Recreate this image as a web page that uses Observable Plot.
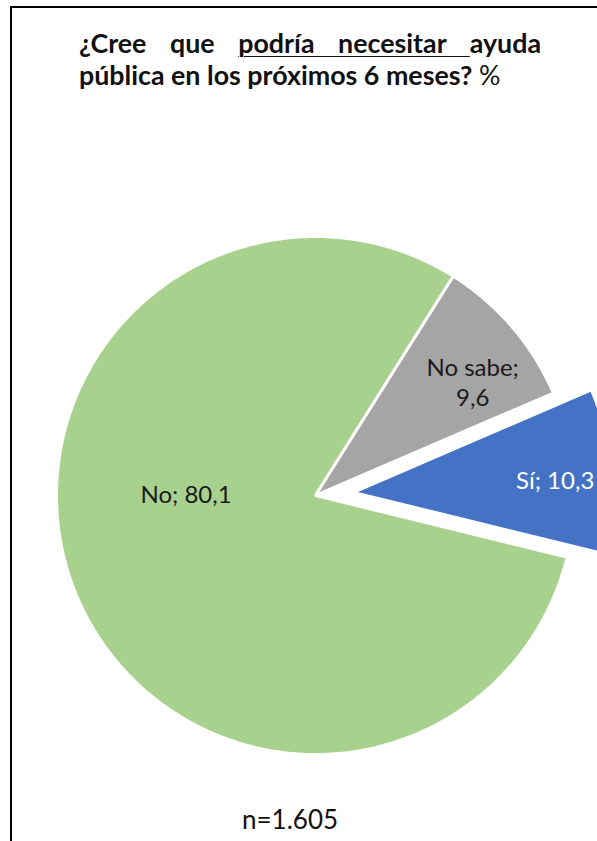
<!DOCTYPE html>
<html><head><meta charset="utf-8">
<script src="https://cdn.jsdelivr.net/npm/d3@7"></script>
<script src="https://cdn.jsdelivr.net/npm/@observablehq/plot@0.6"></script>
<style>
body{margin:0;background:#fff;}
#wrap{position:relative;width:597px;height:841px;overflow:hidden;font-family:Lato,sans-serif;}
#frame{position:absolute;left:10px;top:6px;width:700px;height:900px;border:2px solid #000;box-sizing:border-box;}
#title{position:absolute;left:79px;top:27px;width:462px;font-weight:700;font-size:26.8px;line-height:32px;color:#111;}
#title .l1{text-align:justify;text-align-last:justify;white-space:nowrap;}
#title .u{text-decoration:underline;text-underline-offset:3px;text-decoration-thickness:1px;}
#title .n{font-weight:400;}
#chart{position:absolute;left:0;top:0;}
#caption{position:absolute;left:242px;top:803px;font-size:26px;color:#111;white-space:nowrap;}
</style></head>
<body>
<div id="wrap">
  <div id="frame"></div>
  <div id="chart"></div>
  <div id="title">
    <div class="l1">¿Cree que <span class="u">podría necesitar </span>ayuda</div>
    <div>pública en los próximos 6 meses? <span class="n">%</span></div>
  </div>
  <div id="caption">n=1.605</div>
</div>
<script>
const categories = ["Sí", "No", "No sabe"];
const values = [10.3, 80.1, 9.6];
const colors = ["#4472C4", "#A9D18E", "#A5A5A5"];
const sampleSize = "n=1.605";

// layout (not data)
const cx = 315, cy = 495, R = 259;
const startDeg = 66.7;
const explode = {"Sí": 0.147};
const labelPlace = {"Sí": {r: 0.78, angle: 87}, "No": {r: 0.5, angle: 271}, "No sabe": {r: 0.75, angle: 54}};
const labelColor = {"Sí": "#ffffff", "No": "#1a1a1a", "No sabe": "#1a1a1a"};

const rad = d => d * Math.PI / 180;
const table = categories.map((c, i) => ({category: c, value: values[i]}));
const arcs = d3.pie().sort(null).value(d => d.value)
  .startAngle(rad(startDeg)).endAngle(rad(startDeg) + 2 * Math.PI)(table);

const fmt = v => v.toFixed(1).replace(".", ",");
const pts = [];
const labels = [];
for (const a of arcs) {
  const c = a.data.category;
  const mid = (a.startAngle + a.endAngle) / 2;
  const e = explode[c] || 0;
  const ox = e * Math.sin(mid), oy = e * Math.cos(mid);
  pts.push({category: c, x: ox, y: oy});
  const n = Math.max(8, Math.ceil((a.endAngle - a.startAngle) / rad(0.5)));
  for (let k = 0; k <= n; k++) {
    const t = a.startAngle + (a.endAngle - a.startAngle) * k / n;
    pts.push({category: c, x: ox + Math.sin(t), y: oy + Math.cos(t)});
  }
  const lp = labelPlace[c];
  const la = lp.angle != null ? rad(lp.angle) : mid;
  const sep = c === "No sabe" ? ";\n" : "; ";
  labels.push({category: c, x: ox + lp.r * Math.sin(la), y: oy + lp.r * Math.cos(la),
    text: c + sep + fmt(a.data.value)});
}
document.getElementById("caption").textContent = sampleSize;

const chart = Plot.plot({
  width: 597, height: 841,
  margin: 0,
  x: {domain: [-1, 1], range: [cx - R, cx + R], axis: null},
  y: {domain: [-1, 1], range: [cy + R, cy - R], axis: null},
  color: {domain: categories, range: colors},
  style: {background: "transparent", overflow: "visible"},
  marks: [
    Plot.line(pts, {x: "x", y: "y", z: "category", fill: "category", stroke: "white", strokeWidth: 3, curve: "linear-closed", strokeLinejoin: "miter"}),
    Plot.text(labels.filter(d => labelColor[d.category] !== "#ffffff"), {x: "x", y: "y", text: "text", fill: "#1a1a1a", fontSize: 24, fontFamily: "Lato", lineHeight: 1.25}),
    Plot.text(labels.filter(d => labelColor[d.category] === "#ffffff"), {x: "x", y: "y", text: "text", fill: "#ffffff", fontSize: 24, fontFamily: "Lato"})
  ]
});
document.getElementById("chart").appendChild(chart);
</script>
</body></html>
